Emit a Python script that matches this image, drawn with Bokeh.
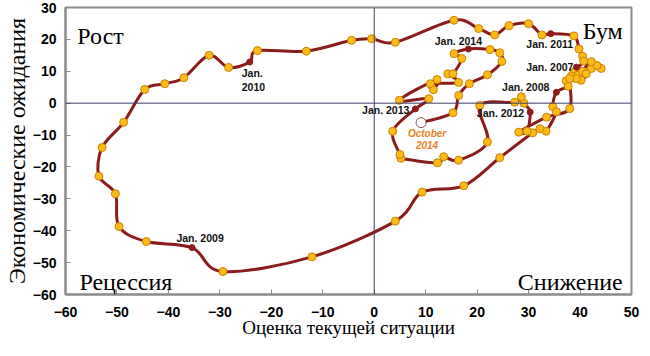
import numpy as np
from bokeh.plotting import figure
from bokeh.models import Range1d, Span, Label
from bokeh.core.properties import value
from bokeh.embed import file_html
from bokeh.resources import INLINE

# ---- data: (current situation, expectations), monthly, Jan 2007 .. Oct 2014 ----
sit_2007 = [39.3, 38.9, 39.6, 42.2, 44.1, 43.3, 42.2, 40.5, 41.2, 40.2, 37.3, 37.7]
exp_2007 = [11.3, 9.8, 8.8, 10.9, 10.9, 11.8, 13.0, 10.0, 9.2, 7.2, 7.0, 5.3]
sit_2008 = [35.4, 34.7, 35.4, 33.4, 32.2, 30.8, 24.4, 17.4, 9.3, 4.1, -12.1, -29.4]
exp_2008 = [3.4, -1.1, -2.7, -8.8, -8.0, -9.3, -17.1, -25.9, -27.9, -37.0, -48.2, -52.8]
sit_2009 = [-35.4, -44.3, -49.6, -50.3, -53.5, -52.9, -48.7, -44.6, -40.7, -37.0, -32.1, -28.3]
exp_2009 = [-45.3, -43.4, -38.7, -28.4, -22.9, -13.9, -6.0, 4.3, 6.1, 8.0, 15.0, 11.2]
sit_2010 = [-24.2, -22.7, -13.2, -4.4, -0.5, 4.1, 15.5, 20.3, 23.4, 26.2, 30.0, 32.6]
exp_2010 = [12.9, 16.5, 16.3, 19.7, 20.2, 19.1, 26.0, 23.4, 21.4, 24.3, 24.9, 21.4]
sit_2011 = [34.3, 38.8, 39.8, 40.5, 40.7, 38.3, 39.3, 38.0, 38.0, 33.5, 28.1, 29.7]
exp_2011 = [21.8, 21.1, 17.0, 14.7, 13.2, 8.5, 7.7, 7.7, -1.7, -4.4, -9.1, -8.8]
sit_2012 = [30.3, 29.1, 28.6, 27.3, 20.5, 22.0, 16.4, 13.5, 12.3, 5.2, 5.0, 3.6]
exp_2012 = [-2.8, 0.0, 2.0, 0.3, -0.7, -12.2, -17.9, -16.8, -18.7, -17.3, -16.1, -8.8]
sit_2013 = [8.0, 10.6, 4.9, 12.2, 11.5, 10.9, 16.4, 14.3, 15.3, 17.0, 15.5]
exp_2013 = [-1.8, 1.4, 0.9, 7.4, 4.2, 6.1, 6.5, 9.2, 9.2, 14.0, 15.5]
sit_2014 = [18.3, 22.5, 24.4, 24.8, 22.0, 18.5, 16.4, 15.3, 9.1]
exp_2014 = [17.0, 16.8, 15.8, 13.1, 8.9, 6.1, 2.4, -3.0, -6.1]

jan_labels = ["Jan. 2007", "Jan. 2008", "Jan. 2009", "Jan.\n2010",
              "Jan. 2011", "Jan. 2012", "Jan. 2013", "Jan. 2014"]
last_label = "October\n2014"
quadrant_labels = ["Рост", "Бум", "Рецессия", "Снижение"]
x_ticks = [-60, -50, -40, -30, -20, -10, 0, 10, 20, 30, 40, 50]
y_ticks = [-60, -50, -40, -30, -20, -10, 0, 10, 20, 30]

# ---- assemble ----
sit_years = [sit_2007, sit_2008, sit_2009, sit_2010, sit_2011, sit_2012, sit_2013, sit_2014]
exp_years = [exp_2007, exp_2008, exp_2009, exp_2010, exp_2011, exp_2012, exp_2013, exp_2014]
sx = np.array(sum(sit_years, []), dtype=float)
sy = np.array(sum(exp_years, []), dtype=float)
jan_idx = np.cumsum([0] + [len(s) for s in sit_years[:-1]])
n = len(sx)
last_idx = n - 1
reg_idx = [i for i in range(n) if i not in set(jan_idx) and i != last_idx]

LINE = "#8C1C1C"
p = figure(frame_width=566, frame_height=287, output_backend="svg", toolbar_location=None,
           x_range=Range1d(-60, 50), y_range=Range1d(-60, 30),
           min_border_left=58, min_border_right=12, min_border_top=8, min_border_bottom=50,
           background_fill_color="white", border_fill_color="white")
p.margin = (-1, 0, 0, 0)
p.grid.visible = False
p.outline_line_color = "#8A8A8A"
p.outline_line_width = 2

for ax, ticks in ((p.xaxis, x_ticks), (p.yaxis, y_ticks)):
    ax.ticker = ticks
    ax.minor_tick_line_color = None
    ax.major_tick_in = 5
    ax.major_tick_out = 0
    ax.major_tick_line_color = "#8A8A8A"
    ax.axis_line_color = "#8A8A8A"
    ax.axis_line_width = 2
    ax.major_label_text_font = "Liberation Sans"
    ax.major_label_text_font_style = "bold"
    ax.major_label_text_font_size = "14px"
    ax.major_label_text_color = "black"
    ax.axis_label_text_font = "Liberation Serif"
    ax.axis_label_text_font_style = "normal"
    ax.axis_label_text_color = "black"
p.xaxis.axis_label = "Оценка текущей ситуации"
p.xaxis.axis_label_text_font_size = "19px"
p.xaxis.major_label_standoff = 12
p.xaxis.axis_label_standoff = -3
p.yaxis.axis_label = "Экономические ожидания"
p.yaxis.axis_label_text_font_size = "24px"
p.yaxis.major_label_standoff = 9
p.yaxis.axis_label_standoff = 0

p.add_layout(Span(location=0, dimension="height", line_color="#3C3C6A", line_width=1))
p.add_layout(Span(location=0, dimension="width", line_color="#3C3C6A", line_width=1))

# smooth (Catmull-Rom) path drawn with bezier glyphs
P = np.column_stack([sx, sy])
Pe = np.vstack([P[0], P, P[-1]])
p0, p1, p2, p3 = Pe[:-3], Pe[1:-2], Pe[2:-1], Pe[3:]
c1 = p1 + (p2 - p0) / 6.0
c2 = p2 - (p3 - p1) / 6.0
p.bezier(x0=p1[:, 0], y0=p1[:, 1], x1=p2[:, 0], y1=p2[:, 1],
         cx0=c1[:, 0], cy0=c1[:, 1], cx1=c2[:, 0], cy1=c2[:, 1],
         line_color=LINE, line_width=3, line_cap="round")

p.scatter(sx[reg_idx], sy[reg_idx], size=8, fill_color="#FDBB1A", line_color="#C98300", line_width=1)
p.scatter(sx[jan_idx], sy[jan_idx], size=6, fill_color=LINE, line_color=LINE)
p.scatter([sx[last_idx]], [sy[last_idx]], size=10, fill_color="white", line_color="#8A5050", line_width=1)

# January labels (offsets in screen px relative to the points)
lab_style = [  # x_off, y_off, align, baseline
    (-3, 0, "right", "middle"),
    (-7, -5, "right", "middle"),
    (8, -10, "center", "middle"),
    (-8, 5, "left", "top"),
    (-1, 10, "center", "middle"),
    (-6, 1, "right", "middle"),
    (-6, 1, "right", "middle"),
    (-10, -8, "center", "middle"),
]
for k, (lab, st) in enumerate(zip(jan_labels, lab_style)):
    i = jan_idx[k]
    p.text([sx[i]], [sy[i]], text=[lab], x_offset=st[0], y_offset=st[1],
           text_align=st[2], text_baseline=st[3], text_font=value("Liberation Sans"),
           text_font_style="bold", text_font_size="10.5px", text_color="#111111",
           text_line_height=1.2)
p.text([sx[last_idx]], [sy[last_idx]], text=[last_label], x_offset=6, y_offset=5,
       text_align="center", text_baseline="top", text_font=value("Liberation Sans"),
       text_font_style="bold italic", text_font_size="10px", text_color="#E8821E",
       text_line_height=1.1)

# quadrant names
qpos = [(-57.7, 21.2, "left"), (48.3, 22.5, "right"), (-57.3, -56.2, "left"), (48.3, -56.1, "right")]
for name, (qx, qy, al) in zip(quadrant_labels, qpos):
    p.add_layout(Label(x=qx, y=qy, text=name, text_align=al, text_baseline="alphabetic",
                       text_font="Liberation Serif", text_font_size="24px", text_color="black"))

open("out.html", "w").write(file_html(p, INLINE))
